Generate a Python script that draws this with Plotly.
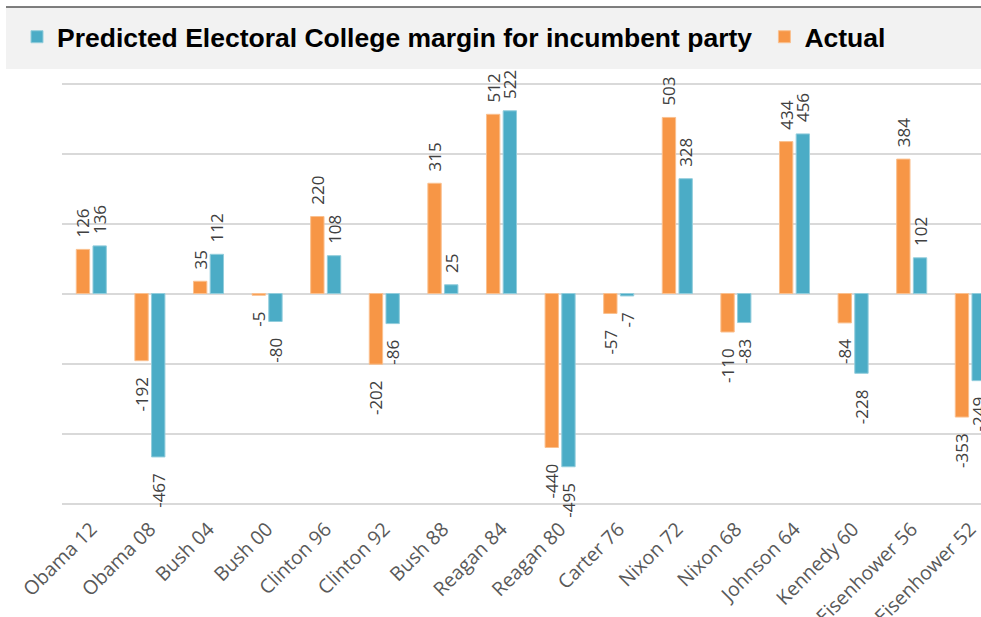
import plotly.graph_objects as go

categories = ["Obama 12", "Obama 08", "Bush 04", "Bush 00", "Clinton 96", "Clinton 92",
              "Bush 88", "Reagan 84", "Reagan 80", "Carter 76", "Nixon 72", "Nixon 68",
              "Johnson 64", "Kennedy 60", "Eisenhower 56", "Eisenhower 52"]
predicted = [136, -467, 112, -80, 108, -86, 25, 522, -495, -7, 328, -83, 456, -228, 102, -249]
actual = [126, -192, 35, -5, 220, -202, 315, 512, -440, -57, 503, -110, 434, -84, 384, -353]

ORANGE = "#F79646"
BLUE = "#4BACC6"
W, H = 981, 617
ML, MT, MB, MR = 62, 80, 110, 0
PH = H - MT - MB
PW = W - ML - MR

POS_PAD = "\u00a0\u00a0"
NEG_PAD = "\u00a0\u00a0\u00a0"


def labels(vals):
    return [(POS_PAD + str(v)) if v >= 0 else (str(v) + NEG_PAD) for v in vals]


fig = go.Figure()
fig.add_trace(go.Bar(
    x=categories, y=actual, name="Actual",
    marker=dict(color=ORANGE, line=dict(color="#FAC08F", width=1)),
    text=labels(actual), textposition="outside", textangle=-90,
    constraintext="none", cliponaxis=False,
    textfont=dict(family="Open Sans", size=17, color="#404040"),
    hoverinfo="skip",
))
fig.add_trace(go.Bar(
    x=categories, y=predicted,
    name="Predicted Electoral College margin for incumbent party\u00a0",
    marker=dict(color=BLUE, line=dict(color="#92CDDC", width=1)),
    text=labels(predicted), textposition="outside", textangle=-90,
    constraintext="none", cliponaxis=False,
    textfont=dict(family="Open Sans", size=17, color="#404040"),
    hoverinfo="skip",
))


def px_x(p):
    return (p - ML) / PW


def px_y(p):
    return (H - MB - p) / PH


shapes = [
    dict(type="rect", xref="paper", yref="paper", x0=px_x(6), x1=px_x(990),
         y0=px_y(69), y1=px_y(7.5), fillcolor="#F2F2F2", line=dict(width=0), layer="below"),
    dict(type="line", xref="paper", yref="paper", x0=px_x(6), x1=px_x(990),
         y0=px_y(7), y1=px_y(7), line=dict(color="#000000", width=1.2)),
]

fig.update_layout(
    width=W, height=H,
    margin=dict(l=ML, r=MR, t=MT, b=MB, pad=0, autoexpand=False),
    paper_bgcolor="white", plot_bgcolor="white",
    barmode="group", bargap=0.43, bargroupgap=0.2,
    shapes=shapes,
    showlegend=True,
    legend=dict(
        orientation="h", traceorder="reversed",
        xref="container", yref="container",
        x=17 / W, xanchor="left", y=1 - 37 / H, yanchor="middle",
        bgcolor="rgba(0,0,0,0)", borderwidth=0,
        font=dict(family="Liberation Sans, Arial", size=26.5, color="#000000", weight="bold"),
        itemclick=False, itemdoubleclick=False,
    ),
    xaxis=dict(
        range=[-0.5, -0.5 + PW / 58.6], tickangle=-45,
        tickfont=dict(family="Open Sans", size=19.5, color="#595959"),
        ticklabelstandoff=6, automargin=False,
        showgrid=False, showline=False, ticks="", zeroline=False,
    ),
    yaxis=dict(
        range=[-610, 610], tick0=0, dtick=200, showticklabels=False, automargin=False,
        showgrid=True, gridcolor="#D9D9D9", gridwidth=1.5,
        zeroline=True, zerolinecolor="#D9D9D9", zerolinewidth=1.5,
        showline=False, ticks="",
    ),
)

fig.write_html("out.html")
